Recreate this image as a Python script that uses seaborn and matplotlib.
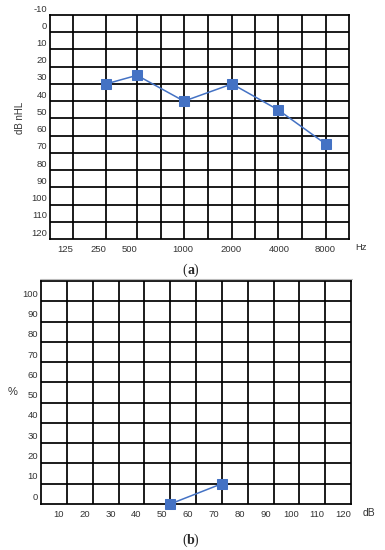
import matplotlib.pyplot as plt
import matplotlib.transforms as mtransforms
import seaborn as sns
import pandas as pd

# (a) pure-tone audiogram
freqs = [250, 500, 1000, 2000, 4000, 8000]
thresholds_db = [30, 25, 40, 30, 45, 65]
freq_labels = ["125", "250", "500", "1000", "2000", "4000", "8000"]
db_ticks = list(range(-10, 121, 10))

# (b) speech audiogram
speech_db = [50, 70]
speech_pct = [0, 10]
speech_x_ticks = list(range(10, 121, 10))
pct_ticks = list(range(0, 101, 10))

# layout of the audiogram columns (irregular widths, in px from the left edge)
col_lines = [0, 23, 56, 87, 111, 134, 158, 182, 205, 228, 252, 276, 299]
freq_pos = {250: 56, 500: 87, 1000: 134, 2000: 182, 4000: 228, 8000: 276}
label_pos = [15, 48, 80, 133, 181, 229, 275]

BLUE = "#4472C4"
LW = 1.25

sns.set_style("white")
plt.rcParams["font.family"] = ["Liberation Sans Narrow", "Liberation Sans", "DejaVu Sans"]

fig = plt.figure(figsize=(3.85, 5.5), dpi=100)


def shift(labels, dx_px, dy_px):
    off = mtransforms.ScaledTranslation(dx_px / 100, dy_px / 100, fig.dpi_scale_trans)
    for lab in labels:
        lab.set_transform(lab.get_transform() + off)


def style_axes(ax):
    for sp in ax.spines.values():
        sp.set_color("black")
        sp.set_linewidth(LW)
    ax.tick_params(which="both", length=0, labelsize=6.8, colors="#333333")
    ax.grid(False)


def caption(y_px, letter):
    kw = dict(fontsize=10, family="Liberation Serif", ha="center", va="center")
    fig.text(185 / 385, 1 - y_px / 550, "(", **kw)
    fig.text(190.5 / 385, 1 - y_px / 550, letter, weight="bold", **kw)
    fig.text(196 / 385, 1 - y_px / 550, ")", **kw)


# ---- top chart
ax1 = fig.add_axes([50 / 385, 1 - 239 / 550, 299 / 385, 224 / 550])
df1 = pd.DataFrame({"pos": [freq_pos[f] for f in freqs], "db": thresholds_db})
for x in col_lines[1:-1]:
    ax1.axvline(x, color="black", lw=LW, zorder=1)
for y in db_ticks[1:-1]:
    ax1.axhline(y, color="black", lw=LW, zorder=1)
sns.lineplot(data=df1, x="pos", y="db", ax=ax1, color=BLUE, lw=1.1,
             marker="s", markersize=7.5, markeredgecolor=BLUE, zorder=3,
             clip_on=False)
ax1.set_xlim(0, 299)
ax1.set_ylim(120, -10)
ax1.set_xticks(label_pos)
ax1.set_xticklabels(freq_labels)
ax1.set_yticks(db_ticks)
ax1.set_yticklabels([str(v) for v in db_ticks])
style_axes(ax1)
ax1.tick_params(axis="y", pad=2)
ax1.tick_params(axis="x", pad=4)
shift(ax1.get_yticklabels(), 0, 7)
ax1.set_xlabel("")
ax1.set_ylabel("")
fig.text(20 / 385, 1 - 118 / 550, "dB nHL", rotation=90, fontsize=7,
         ha="center", va="center", color="#333333")
fig.text(355 / 385, 1 - 247 / 550, "Hz", fontsize=6.8, ha="left", va="center",
         color="#333333")

caption(270, "a")
fig.add_artist(plt.Line2D([40 / 385, 352 / 385], [1 - 279 / 550, 1 - 279 / 550],
                          color="#bbbbbb", lw=0.8))

# ---- bottom chart
ax2 = fig.add_axes([41 / 385, 1 - 504 / 550, 310 / 385, 223 / 550])
df2 = pd.DataFrame({"db": speech_db, "pct": speech_pct})
for x in speech_x_ticks[:-1]:
    ax2.axvline(x, color="black", lw=LW, zorder=1)
for y in pct_ticks[1:]:
    ax2.axhline(y, color="black", lw=LW, zorder=1)
sns.lineplot(data=df2, x="db", y="pct", ax=ax2, color=BLUE, lw=1.1,
             marker="s", markersize=7.5, markeredgecolor=BLUE, zorder=3,
             clip_on=False)
ax2.set_xlim(0, 120)
ax2.set_ylim(0, 110)
ax2.set_xticks(speech_x_ticks)
ax2.set_xticklabels([str(v) for v in speech_x_ticks])
ax2.set_yticks(pct_ticks)
ax2.set_yticklabels([str(v) for v in pct_ticks])
style_axes(ax2)
ax2.tick_params(axis="y", pad=2)
ax2.tick_params(axis="x", pad=4)
shift(ax2.get_yticklabels(), 0, 8)
shift(ax2.get_xticklabels(), -8, 0)
ax2.set_xlabel("")
ax2.set_ylabel("")
fig.text(13 / 385, 1 - 392 / 550, "%", fontsize=8, ha="center", va="center",
         color="#333333")
fig.text(369 / 385, 1 - 513 / 550, "dB", fontsize=7.5, ha="center", va="center",
         color="#333333")

caption(540, "b")

fig.savefig("out.png", dpi=100)
